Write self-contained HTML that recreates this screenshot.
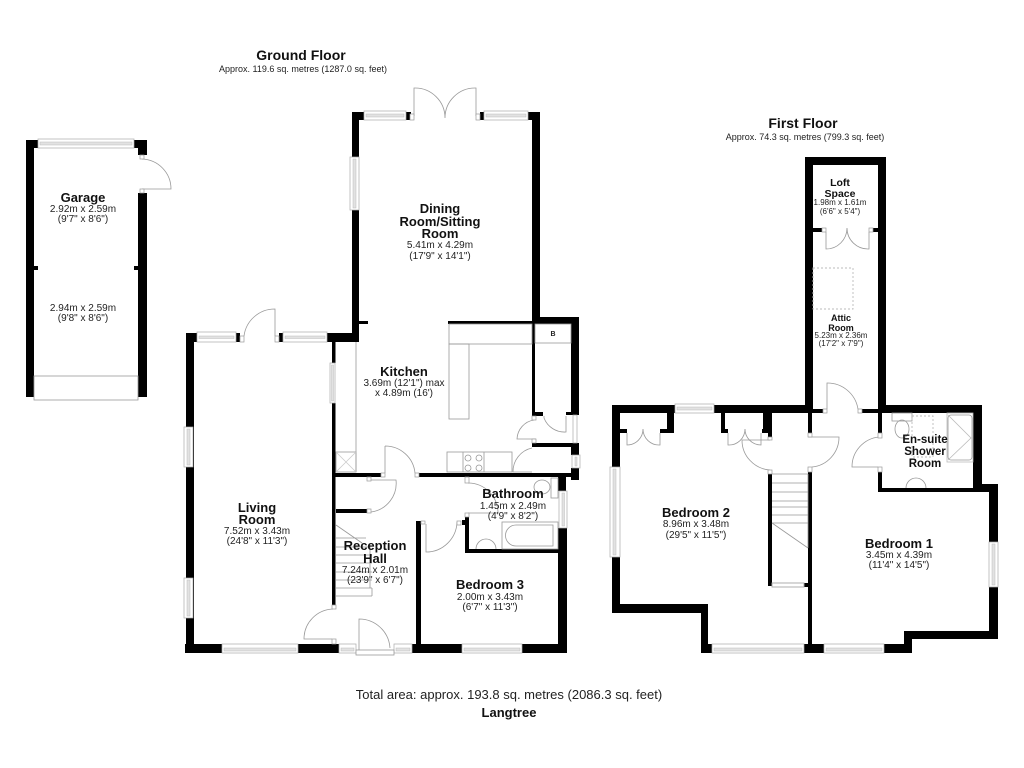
<!DOCTYPE html>
<html><head><meta charset="utf-8"><title>Langtree floor plan</title>
<style>
html,body{margin:0;padding:0;background:#fff}
svg{display:block}
text{font-family:"Liberation Sans",sans-serif;text-anchor:middle;fill:#222;font-size:10px}
.n{font-weight:bold;font-size:13px;fill:#111}
.h{font-weight:bold;font-size:14px;fill:#111}
.m{font-weight:bold;font-size:11.5px;fill:#111}
.s{font-weight:bold;font-size:10.5px;fill:#111}
.a{font-weight:bold;font-size:9px;fill:#111}
.t{font-size:8px}
.w rect{fill:#fff;stroke:#aaa;stroke-width:.7}
.w rect.i{fill:#e2e2e2;stroke:#bbb;stroke-width:.5}
.l{fill:none;stroke:#999;stroke-width:.8}
.d{fill:none;stroke:#bbb;stroke-width:.9;stroke-dasharray:2 2}
.j rect{fill:#fff;stroke:#999;stroke-width:.7}
</style></head><body>
<svg width="1024" height="768" viewBox="0 0 1024 768" xmlns="http://www.w3.org/2000/svg">
<rect width="1024" height="768" fill="#fff"/>

<!-- WALLS -->
<g fill="#000">
<!-- Garage -->
<rect x="26" y="140" width="8" height="257"/>
<rect x="26" y="140" width="12" height="8"/>
<rect x="134" y="140" width="13" height="8"/>
<rect x="138" y="140" width="9" height="15"/>
<rect x="138" y="193" width="9" height="204"/>
<rect x="34" y="266" width="4" height="4"/>
<rect x="134" y="266" width="4" height="4"/>
<!-- Living room / ground floor outer -->
<rect x="186" y="333" width="8" height="320"/>
<rect x="186" y="333" width="11" height="9"/>
<rect x="236" y="333" width="4" height="9"/>
<rect x="279" y="333" width="4" height="9"/>
<rect x="327" y="333" width="32" height="9"/>
<rect x="185" y="644" width="154" height="9"/>
<rect x="412" y="644" width="155" height="9"/>
<rect x="558" y="528" width="9" height="125"/>
<rect x="558" y="477" width="8" height="14"/>
<!-- Dining -->
<rect x="352" y="112" width="7" height="230"/>
<rect x="352" y="112" width="12" height="8"/>
<rect x="406" y="112" width="5" height="8"/>
<rect x="480" y="112" width="4" height="8"/>
<rect x="528" y="112" width="12" height="8"/>
<rect x="532" y="112" width="8" height="205"/>
<rect x="359" y="321" width="9" height="3"/>
<!-- Kitchen top and cupboard -->
<rect x="448" y="321" width="84" height="3"/>
<rect x="532" y="317" width="47" height="7"/>
<rect x="532" y="317" width="3" height="99"/>
<rect x="571" y="317" width="8" height="98"/>
<rect x="532" y="412" width="11" height="4"/>
<rect x="566" y="412" width="11" height="3"/>
<rect x="532" y="443" width="47" height="4"/>
<rect x="571" y="443" width="8" height="12"/>
<rect x="571" y="468" width="8" height="12"/>
<!-- Inner ground -->
<rect x="332" y="342" width="3.5" height="21"/>
<rect x="332" y="403" width="3.5" height="202"/>
<rect x="335" y="473" width="46" height="4"/>
<rect x="419" y="473" width="160" height="4"/>
<rect x="336" y="509" width="31" height="4"/>
<rect x="416" y="521" width="5" height="123"/>
<rect x="462" y="520" width="7" height="5"/>
<rect x="465" y="517" width="4" height="36"/>
<rect x="465" y="549" width="93" height="4"/>
<!-- First floor outer -->
<rect x="612" y="405" width="197" height="8"/>
<rect x="612" y="405" width="8" height="62"/>
<rect x="612" y="557" width="8" height="56"/>
<rect x="612" y="604" width="96" height="9"/>
<rect x="701" y="604" width="7" height="49"/>
<rect x="701" y="644" width="11" height="9"/>
<rect x="804" y="644" width="20" height="9"/>
<rect x="884" y="644" width="28" height="9"/>
<rect x="904" y="631" width="8" height="22"/>
<rect x="904" y="631" width="94" height="8"/>
<rect x="989" y="587" width="9" height="52"/>
<rect x="989" y="484" width="9" height="58"/>
<rect x="973" y="484" width="25" height="8"/>
<rect x="973" y="405" width="9" height="87"/>
<rect x="878" y="405" width="104" height="8"/>
<rect x="878" y="488" width="104" height="4"/>
<rect x="878" y="472" width="4" height="20"/>
<rect x="878" y="413" width="4" height="20"/>
<!-- Attic -->
<rect x="805" y="157" width="8" height="256"/>
<rect x="878" y="157" width="8" height="256"/>
<rect x="805" y="157" width="81" height="8"/>
<rect x="813" y="228" width="9" height="4"/>
<rect x="873" y="228" width="5" height="4"/>
<rect x="813" y="409" width="10" height="4"/>
<rect x="862" y="409" width="16" height="4"/>
<!-- Inner first -->
<rect x="808" y="413" width="4" height="20"/>
<rect x="808" y="472" width="4" height="181"/>
<rect x="768" y="474" width="4" height="112"/>
<rect x="804" y="583" width="4" height="4"/>
<!-- closets -->
<rect x="667" y="413" width="7" height="20"/>
<rect x="660" y="429" width="7" height="4"/>
<rect x="620" y="429" width="7" height="4"/>
<rect x="721" y="413" width="4" height="20"/>
<rect x="721" y="429" width="7" height="4"/>
<rect x="763" y="413" width="9" height="20"/>
<rect x="762" y="429" width="10" height="4"/>
<rect x="768" y="413" width="4" height="24"/>
</g>

<!-- WINDOWS -->
<g class="w">
<rect x="38" y="139" width="96" height="9"/><rect class="i" x="40" y="142" width="92" height="3"/>
<rect x="197" y="332" width="39" height="10"/><rect class="i" x="199" y="336" width="35" height="2.5"/>
<rect x="283" y="332" width="44" height="10"/><rect class="i" x="285" y="336" width="40" height="2.5"/>
<rect x="330" y="363" width="5" height="40"/><rect class="i" x="331.5" y="365" width="2" height="36"/>
<rect x="364" y="111" width="42" height="9"/><rect class="i" x="366" y="114" width="38" height="3"/>
<rect x="484" y="111" width="44" height="9"/><rect class="i" x="486" y="114" width="40" height="3"/>
<rect x="350" y="157" width="9" height="53"/><rect class="i" x="353" y="159" width="3" height="49"/>
<rect x="184" y="427" width="9" height="40"/><rect class="i" x="187" y="429" width="3" height="36"/>
<rect x="184" y="578" width="9" height="40"/><rect class="i" x="187" y="580" width="3" height="36"/>
<rect x="222" y="644" width="76" height="9"/><rect class="i" x="224" y="648" width="72" height="3"/>
<rect x="339" y="644" width="17" height="9"/><rect class="i" x="341" y="648" width="13" height="3"/>
<rect x="394" y="644" width="18" height="9"/><rect class="i" x="396" y="648" width="14" height="3"/>
<rect x="462" y="644" width="60" height="9"/><rect class="i" x="464" y="648" width="56" height="3"/>
<rect x="559" y="491" width="8" height="37"/><rect class="i" x="562" y="493" width="2.5" height="33"/>
<rect x="573" y="415" width="4" height="28"/>
<rect x="572" y="455" width="8" height="13"/><rect class="i" x="575" y="457" width="2" height="9"/>
<rect x="675" y="404" width="39" height="9"/><rect class="i" x="677" y="407" width="35" height="3"/>
<rect x="610" y="467" width="10" height="90"/><rect class="i" x="613" y="469" width="3" height="86"/>
<rect x="712" y="644" width="92" height="9"/><rect class="i" x="714" y="648" width="88" height="3"/>
<rect x="824" y="644" width="60" height="9"/><rect class="i" x="826" y="648" width="56" height="3"/>
<rect x="989" y="542" width="9" height="45"/><rect class="i" x="992" y="544" width="3" height="41"/>
<rect x="772" y="583" width="32" height="4"/>
</g>

<!-- DOORS & FIXTURES -->
<g class="l">
<!-- Garage door -->
<path d="M142 159 A30 30 0 0 1 171 189 L142 189"/>
<rect x="34" y="376" width="104" height="24"/>
<!-- Living door -->
<path d="M244 336 A31 31 0 0 1 275 309 L275 336"/>
<!-- French doors dining -->
<path d="M414 116 L414 88 A30 30 0 0 1 445 118 A30 30 0 0 1 476 88 L476 116"/>
<!-- kitchen fixtures -->
<path d="M356 342 L356 472"/>
<rect x="336" y="452" width="20" height="20"/>
<path d="M336 452 L356 472 M356 452 L336 472" stroke="#ccc"/>
<rect x="449" y="324" width="83" height="20"/>
<rect x="449" y="344" width="20" height="75"/>
<rect x="447" y="452" width="65" height="20"/>
<path d="M463 452V472M484 452V472"/>
<circle cx="468" cy="458" r="3"/><circle cx="479" cy="458" r="3"/><circle cx="468" cy="468" r="3"/><circle cx="479" cy="468" r="3"/>
<rect x="535" y="324" width="36" height="19"/>
<path d="M385 446 L385 473 M385 446 A30 30 0 0 1 415 473"/>
<path d="M534 420 A20 20 0 0 0 517 439 L536 439"/>
<path d="M544 416 L544 418 A22 22 0 0 0 566 432 L566 416"/>
<path d="M532 448 A24 24 0 0 0 513 472 L532 472"/>
<!-- hall doors -->
<path d="M367 480 L396 480 A29 29 0 0 1 371 512"/>
<path d="M333 609 A30 30 0 0 0 304 639 L332 639"/>
<path d="M359 650 L359 619 A31 31 0 0 1 390 648"/>
<rect x="356" y="650" width="38" height="5" fill="#fff"/>
<!-- stairs -->
<path d="M336 525 L362 543 M336 538 H366 M336 547 H368 M336 555 H372 M336 563 H372 M336 572 H372 M336 580 H372 M336 588 H372 M336 596 H372 M372 596 V588 M370 545 V588"/>
<!-- bedroom 3 door -->
<path d="M426 524 L426 552 A31 31 0 0 0 457 522"/>
<!-- bathroom -->
<path d="M468 483 A30 30 0 0 1 498 513 L468 513"/>
<rect x="502" y="522" width="56" height="27"/>
<path d="M516 525 H553 V546 H516 A10.500 10.500 0 0 1 516 525 Z"/>
<path d="M476 549 A10 10 0 1 1 496 549"/>
<ellipse cx="542" cy="487" rx="8" ry="7"/>
<rect x="551" y="478" width="7" height="20"/>
<!-- first floor: loft -->
<path d="M826 232 L826 249 A21 21 0 0 0 847 228 A21 21 0 0 0 869 249 L869 232"/>
<path d="M827 409 L827 383 A31 31 0 0 1 858 409"/>
<!-- closets -->
<path d="M627 433 L627 445 A16 16 0 0 0 643 429 A16 16 0 0 0 660 445 L660 433"/>
<path d="M728 433 L728 445 A16 16 0 0 0 745 429 A16 16 0 0 0 761 445 L761 433"/>
<!-- landing doors -->
<path d="M770 470 A30 30 0 0 1 742 440 L770 440"/>
<path d="M808 437 L839 437 A30 30 0 0 1 812 467"/>
<path d="M879 437 A30 30 0 0 0 852 467 L878 467"/>
<!-- first stairs -->
<path d="M772 474 H808 M772 483 H808 M772 492 H808 M772 501 H808 M772 507 H808 M772 515 H808 M772 523 H808 M772 523 L808 548 M808 474 V548"/>
<!-- ensuite -->
<rect x="892" y="413" width="20" height="8"/>
<ellipse cx="902" cy="429" rx="7" ry="9"/>
<rect x="947" y="413" width="26" height="49" stroke="#bbb"/>
<rect x="948" y="415" width="24" height="45" rx="3"/>
<path d="M948 415 L971 438 L948 460" stroke="#bbb"/>
<path d="M906 488 A10 10 0 1 1 926 488"/>
<rect x="772" y="583" width="32" height="4" stroke="#aaa"/>
</g>
<rect class="d" x="813" y="268" width="40" height="41"/>
<rect class="d" x="912" y="416" width="21" height="41"/>

<!-- JAMBS -->
<g class="j">
<rect x="140" y="155" width="4" height="4"/><rect x="140" y="189" width="4" height="4"/>
<rect x="240" y="336" width="4" height="6"/><rect x="275" y="336" width="4" height="6"/>
<rect x="410" y="114" width="4" height="6"/><rect x="476" y="114" width="4" height="6"/>
<rect x="381" y="473" width="4" height="4"/><rect x="415" y="473" width="4" height="4"/>
<rect x="532" y="416" width="4" height="4"/><rect x="532" y="439" width="4" height="4"/>
<rect x="367" y="477" width="4" height="4"/><rect x="367" y="509" width="4" height="4"/>
<rect x="332" y="605" width="4" height="4"/><rect x="332" y="639" width="4" height="5"/>
<rect x="465" y="477" width="4" height="6"/><rect x="465" y="513" width="4" height="4"/>
<rect x="421" y="521" width="4" height="3"/><rect x="457" y="521" width="4" height="4"/>
<rect x="822" y="228" width="4" height="4"/><rect x="869" y="228" width="4" height="4"/>
<rect x="823" y="409" width="4" height="4"/><rect x="858" y="409" width="4" height="4"/>
<rect x="808" y="433" width="4" height="4"/><rect x="808" y="467" width="4" height="5"/>
<rect x="768" y="437" width="4" height="3"/><rect x="768" y="470" width="4" height="4"/>
<rect x="878" y="433" width="4" height="5"/><rect x="878" y="467" width="4" height="5"/>
</g>

<!-- TEXT -->
<text class="h" x="301" y="60">Ground Floor</text>
<text x="303" y="72" style="font-size:9px">Approx. 119.6 sq. metres (1287.0 sq. feet)</text>
<text class="h" x="803" y="128">First Floor</text>
<text x="805" y="140" style="font-size:9px">Approx. 74.3 sq. metres (799.3 sq. feet)</text>

<text class="n" x="83" y="202">Garage</text>
<text x="83" y="212">2.92m x 2.59m</text>
<text x="83" y="222">(9'7" x 8'6")</text>
<text x="83" y="311">2.94m x 2.59m</text>
<text x="83" y="321">(9'8" x 8'6")</text>

<text class="n" x="440" y="213">Dining</text>
<text class="n" x="440" y="226">Room/Sitting</text>
<text class="n" x="440" y="238">Room</text>
<text x="440" y="248">5.41m x 4.29m</text>
<text x="440" y="259">(17'9" x 14'1")</text>

<text class="n" x="404" y="376">Kitchen</text>
<text x="404" y="386">3.69m (12'1") max</text>
<text x="404" y="396">x 4.89m (16')</text>
<text x="553" y="336" style="font-size:7px;font-weight:bold">B</text>

<text class="n" x="257" y="512">Living</text>
<text class="n" x="257" y="524">Room</text>
<text x="257" y="534">7.52m x 3.43m</text>
<text x="257" y="544">(24'8" x 11'3")</text>

<text class="n" x="375" y="550">Reception</text>
<text class="n" x="375" y="563">Hall</text>
<text x="375" y="573">7.24m x 2.01m</text>
<text x="375" y="583">(23'9" x 6'7")</text>

<text class="n" x="490" y="589">Bedroom 3</text>
<text x="490" y="600">2.00m x 3.43m</text>
<text x="490" y="610">(6'7" x 11'3")</text>

<text class="n" x="513" y="498">Bathroom</text>
<text x="513" y="509">1.45m x 2.49m</text>
<text x="513" y="519">(4'9" x 8'2")</text>

<text class="s" x="840" y="186">Loft</text>
<text class="s" x="840" y="197">Space</text>
<text class="t" x="840" y="205">1.98m x 1.61m</text>
<text class="t" x="840" y="214">(6'6" x 5'4")</text>

<text class="a" x="841" y="321">Attic</text>
<text class="a" x="841" y="331">Room</text>
<text class="t" x="841" y="338">5.23m x 2.36m</text>
<text class="t" x="841" y="346">(17'2" x 7'9")</text>

<text class="m" x="925" y="443">En-suite</text>
<text class="m" x="925" y="455">Shower</text>
<text class="m" x="925" y="467">Room</text>

<text class="n" x="696" y="517">Bedroom 2</text>
<text x="696" y="527">8.96m x 3.48m</text>
<text x="696" y="538">(29'5" x 11'5")</text>

<text class="n" x="899" y="548">Bedroom 1</text>
<text x="899" y="558">3.45m x 4.39m</text>
<text x="899" y="568">(11'4" x 14'5")</text>

<text x="509" y="699" style="font-size:13px">Total area: approx. 193.8 sq. metres (2086.3 sq. feet)</text>
<text class="n" x="509" y="717">Langtree</text>
</svg>
</body></html>
